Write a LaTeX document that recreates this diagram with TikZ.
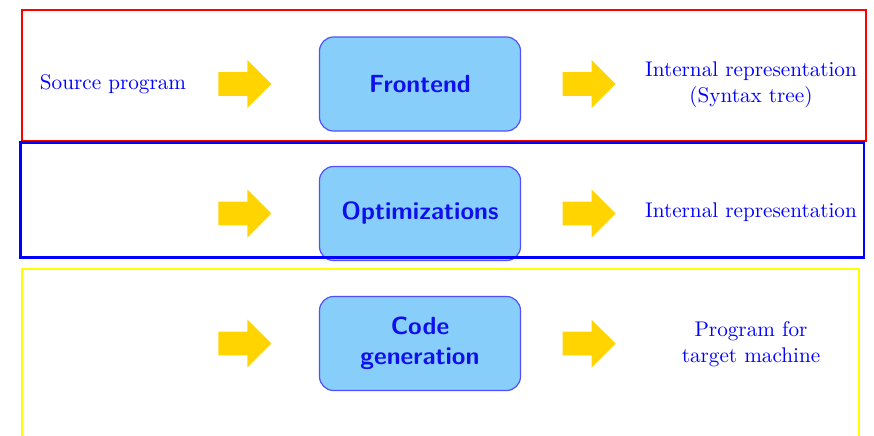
\documentclass[tikz,border=0pt]{standalone}
\usetikzlibrary{positioning,shapes.arrows}

\tikzset{
    phasebox/.style={
        draw=PhaseBorder, fill=PhaseFill,
        rounded corners=7pt, line width=0.6pt,
        minimum width=100.5pt, minimum height=47pt,
        text=PhaseText, font=\fontsize{12.4}{15}\sffamily\bfseries, align=center
    },
    goarrow/.style={
        single arrow, fill=ArrowFill, draw=none,
        inner xsep=0pt, inner ysep=5.75pt,
        minimum height=26.5pt, minimum width=23.5pt,
        single arrow head extend=6pt
    },
    iotext/.style={text=blue, font=\fontsize{10.6}{13}\selectfont, align=center}
}

\begin{document}
\begin{tikzpicture}[x=0.5pt, y=-0.5pt]

\definecolor{PhaseFill}{RGB}{135,206,250}
\definecolor{PhaseBorder}{RGB}{80,80,255}
\definecolor{PhaseText}{RGB}{15,15,235}
\definecolor{ArrowFill}{RGB}{255,212,0}
\definecolor{FrameRed}{RGB}{255,0,0}
\definecolor{FrameBlue}{RGB}{0,0,255}
\definecolor{FrameYellow}{RGB}{255,255,0}

\clip (0,0) rectangle (874,435);

% ── Phases ───────────────────────────────────────────────────
\node[phasebox] (frontend) at (420,84)    {Frontend};
\node[phasebox] (optim)    at (420,213.5) {Optimizations};
\node[phasebox] (codegen)  at (420,343.5) {Code\\generation};

% ── Yellow arrows in and out ─────────────────────────────────
\node[goarrow, left=23.5pt of frontend]  (inA)  {};
\node[goarrow, right=20.5pt of frontend] (outA) {};
\node[goarrow, left=23.5pt of optim]     (inB)  {};
\node[goarrow, right=20.5pt of optim]    (outB) {};
\node[goarrow, left=23.5pt of codegen]   (inC)  {};
\node[goarrow, right=20.5pt of codegen]  (outC) {};

% ── Inputs and outputs ───────────────────────────────────────
\node[iotext] (source)  at (113,84)    {Source program};
\node[iotext] (syntax)  at (751,85)    {Internal representation\\(Syntax tree)};
\node[iotext] (interm)  at (751,212)   {Internal representation};
\node[iotext] (target)  at (751,344)   {Program for\\target machine};

% ── Frames round each stage ──────────────────────────────────
\draw[FrameRed,    line width=1pt]   (22,9.5)    rectangle (866,141);
\draw[FrameBlue,   line width=1.2pt] (20.5,142.5) rectangle (864,257.5);
\draw[FrameYellow, line width=1pt]   (22,268.5)  rectangle (859,450);

\end{tikzpicture}
\end{document}
